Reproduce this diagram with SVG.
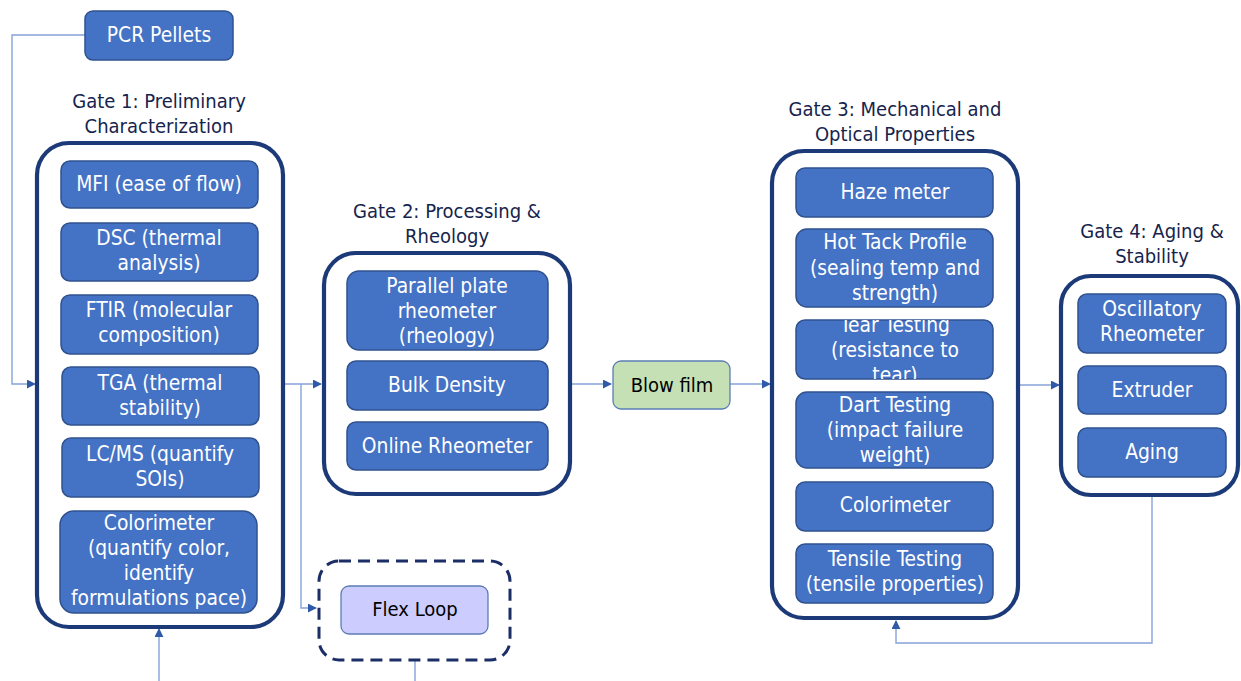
<svg xmlns="http://www.w3.org/2000/svg" width="1241" height="681" viewBox="0 0 1241 681">
<style>
text{font-family:"DejaVu Sans Condensed","DejaVu Sans",sans-serif;font-stretch:condensed;font-size:20px;text-anchor:middle}
.box{fill:#4472C4;stroke:#2F528F;stroke-width:1.5}
.bt{fill:#FFFFFF;font-size:20.8px}
.gate{fill:none;stroke:#1C3A78;stroke-width:4.2}
.title{fill:#16244D}
.conn{fill:none;stroke:#86A3D8;stroke-width:1.4}
.dark{fill:#000000}
</style>
<defs>
<marker id="arr" viewBox="0 0 10 10" refX="9" refY="5" markerWidth="9" markerHeight="9" markerUnits="userSpaceOnUse" orient="auto">
<path d="M0,0 L10,5 L0,10 z" fill="#2F5AA8"/>
</marker>
<clipPath id="tearClip"><rect x="796" y="320" width="197" height="59" rx="9"/></clipPath>
</defs>
<rect width="1241" height="681" fill="#FFFFFF"/>

<g id="connectors">
<path class="conn" d="M85,35 H12 V384 H35" marker-end="url(#arr)"/>
<path class="conn" d="M283,384 H321" marker-end="url(#arr)"/>
<path class="conn" d="M301,384 V608 H316" marker-end="url(#arr)"/>
<path class="conn" d="M570,384 H611" marker-end="url(#arr)"/>
<path class="conn" d="M730,384 H770" marker-end="url(#arr)"/>
<path class="conn" d="M1018,385 H1059" marker-end="url(#arr)"/>
<path class="conn" d="M1152,495 V643 H896 V621" marker-end="url(#arr)"/>
<path class="conn" d="M159,681 V629" marker-end="url(#arr)"/>
<path class="conn" d="M415,660 V681"/>
</g>

<g id="pcr-pellets">
<rect class="box" x="85" y="11" width="148" height="49" rx="8"/>
<text class="bt" x="159" y="42">PCR Pellets</text>
</g>

<g id="gate1">
<text class="title" x="159" y="108">Gate 1: Preliminary</text>
<text class="title" x="159" y="133">Characterization</text>
<rect class="gate" x="37" y="143" width="246" height="484" rx="32"/>
</g>
<g id="mfi">
<rect class="box" x="61" y="161" width="197" height="47" rx="9"/>
<text class="bt" x="159" y="191">MFI (ease of flow)</text>
</g>
<g id="dsc">
<rect class="box" x="61" y="223" width="197" height="58" rx="9"/>
<text class="bt" x="159" y="245">DSC (thermal</text>
<text class="bt" x="159" y="270">analysis)</text>
</g>
<g id="ftir">
<rect class="box" x="61" y="295" width="197" height="59" rx="9"/>
<text class="bt" x="159" y="317">FTIR (molecular</text>
<text class="bt" x="159" y="342">composition)</text>
</g>
<g id="tga">
<rect class="box" x="62" y="367" width="197" height="58" rx="9"/>
<text class="bt" x="160" y="390">TGA (thermal</text>
<text class="bt" x="160" y="415">stability)</text>
</g>
<g id="lcms">
<rect class="box" x="62" y="438" width="197" height="59" rx="9"/>
<text class="bt" x="160" y="461">LC/MS (quantify</text>
<text class="bt" x="160" y="486">SOIs)</text>
</g>
<g id="colorimeter1">
<rect class="box" x="60" y="511" width="197" height="102" rx="14"/>
<text class="bt" x="159" y="530">Colorimeter</text>
<text class="bt" x="159" y="555">(quantify color,</text>
<text class="bt" x="159" y="580">identify</text>
<text class="bt" x="159" y="605">formulations pace)</text>
</g>

<g id="gate2">
<text class="title" x="447" y="218">Gate 2: Processing &amp;</text>
<text class="title" x="447" y="243">Rheology</text>
<rect class="gate" x="324" y="253" width="246" height="241" rx="32"/>
</g>
<g id="parallel-plate">
<rect class="box" x="347" y="271" width="201" height="79" rx="12"/>
<text class="bt" x="447" y="293">Parallel plate</text>
<text class="bt" x="447" y="318">rheometer</text>
<text class="bt" x="447" y="343">(rheology)</text>
</g>
<g id="bulk-density">
<rect class="box" x="347" y="361" width="201" height="49" rx="9"/>
<text class="bt" x="447" y="392">Bulk Density</text>
</g>
<g id="online-rheometer">
<rect class="box" x="347" y="422" width="201" height="48" rx="9"/>
<text class="bt" x="447" y="453">Online Rheometer</text>
</g>

<g id="flex-loop">
<rect x="319" y="561" width="191" height="99" rx="20" fill="none" stroke="#1B2F66" stroke-width="3" stroke-dasharray="12,7"/>
<rect x="341" y="586" width="147" height="48" rx="8" fill="#CCCCFF" stroke="#5B7DB5" stroke-width="1.3"/>
<text class="dark" x="415" y="616">Flex Loop</text>
</g>

<g id="blow-film">
<rect x="613" y="361" width="117" height="48" rx="8" fill="#C5E0B4" stroke="#5B7DB5" stroke-width="1.3"/>
<text class="dark" x="672" y="392">Blow film</text>
</g>

<g id="gate3">
<text class="title" x="895" y="116">Gate 3: Mechanical and</text>
<text class="title" x="895" y="141">Optical Properties</text>
<rect class="gate" x="772" y="151" width="246" height="467" rx="32"/>
</g>
<g id="haze-meter">
<rect class="box" x="796" y="168" width="197" height="49" rx="9"/>
<text class="bt" x="895" y="199">Haze meter</text>
</g>
<g id="hot-tack">
<rect class="box" x="796" y="229" width="197" height="78" rx="11"/>
<text class="bt" x="895" y="249">Hot Tack Profile</text>
<text class="bt" x="895" y="275">(sealing temp and</text>
<text class="bt" x="895" y="300">strength)</text>
</g>
<g id="tear-testing">
<rect class="box" x="796" y="320" width="197" height="59" rx="9"/>
<g clip-path="url(#tearClip)">
<text class="bt" x="895" y="332">Tear Testing</text>
<text class="bt" x="895" y="357">(resistance to</text>
<text class="bt" x="895" y="382">tear)</text>
</g>
</g>
<g id="dart-testing">
<rect class="box" x="796" y="392" width="197" height="76" rx="11"/>
<text class="bt" x="895" y="412">Dart Testing</text>
<text class="bt" x="895" y="437">(impact failure</text>
<text class="bt" x="895" y="462">weight)</text>
</g>
<g id="colorimeter3">
<rect class="box" x="796" y="482" width="197" height="49" rx="9"/>
<text class="bt" x="895" y="512">Colorimeter</text>
</g>
<g id="tensile-testing">
<rect class="box" x="796" y="544" width="197" height="59" rx="9"/>
<text class="bt" x="895" y="566">Tensile Testing</text>
<text class="bt" x="895" y="591">(tensile properties)</text>
</g>

<g id="gate4">
<text class="title" x="1152" y="238">Gate 4: Aging &amp;</text>
<text class="title" x="1152" y="263">Stability</text>
<rect class="gate" x="1061" y="276" width="177" height="219" rx="30"/>
</g>
<g id="oscillatory-rheometer">
<rect class="box" x="1078" y="294" width="148" height="59" rx="9"/>
<text class="bt" x="1152" y="316">Oscillatory</text>
<text class="bt" x="1152" y="341">Rheometer</text>
</g>
<g id="extruder">
<rect class="box" x="1078" y="366" width="148" height="48" rx="9"/>
<text class="bt" x="1152" y="397">Extruder</text>
</g>
<g id="aging">
<rect class="box" x="1078" y="428" width="148" height="49" rx="9"/>
<text class="bt" x="1152" y="459">Aging</text>
</g>
</svg>
